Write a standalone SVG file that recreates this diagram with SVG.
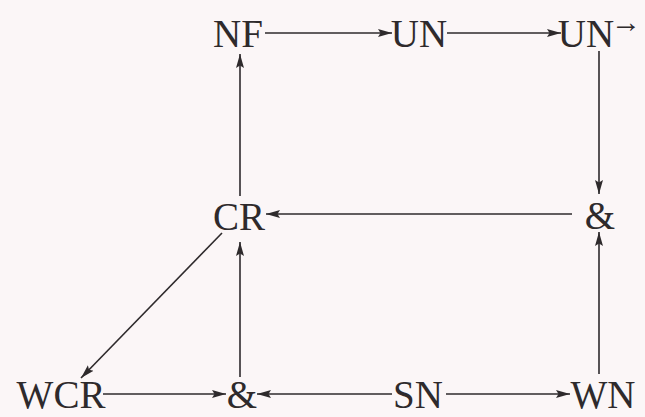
<svg xmlns="http://www.w3.org/2000/svg" width="645" height="417" viewBox="0 0 645 417">
<style>
.n{font-family:"Liberation Serif","DejaVu Serif","Noto Serif",serif;font-size:39px;fill:#2e2a2c;text-anchor:middle}
.e line{stroke:#2e2a2c;stroke-width:1.6;marker-end:url(#ah)}
</style>
<defs>
<marker id="ah" viewBox="0 0 14 9" refX="14" refY="4.5" markerWidth="14" markerHeight="9" markerUnits="userSpaceOnUse" orient="auto">
<path d="M0,0.5 L14,4.5 L0,8.5 L2.5,4.5 z" fill="#2e2a2c"/>
</marker>
</defs>
<rect width="645" height="417" fill="#fbf6f7"/>
<g class="e" id="connectors">
<line x1="265" y1="33" x2="392" y2="33"/>
<line x1="447" y1="33" x2="561" y2="33"/>
<line x1="599" y1="51" x2="599" y2="194"/>
<line x1="572" y1="214" x2="266" y2="214"/>
<line x1="240" y1="196" x2="240" y2="54"/>
<line x1="240" y1="377" x2="240" y2="242"/>
<line x1="222" y1="233" x2="81" y2="378"/>
<line x1="103" y1="394" x2="226" y2="394"/>
<line x1="392" y1="394" x2="257" y2="394"/>
<line x1="446" y1="394" x2="570" y2="394"/>
<line x1="599" y1="374" x2="599" y2="232"/>
</g>
<g id="NF"><text class="n" x="238" y="47">NF</text></g>
<g id="UN"><text class="n" x="419" y="47">UN</text></g>
<g id="UNarrow"><text class="n" x="586" y="47">UN<tspan x="626" y="32" font-size="30">→</tspan></text></g>
<g id="CR"><text class="n" x="239" y="230">CR</text></g>
<g id="ampR"><text class="n" x="600" y="229">&amp;</text></g>
<g id="WCR"><text class="n" x="61" y="408">WCR</text></g>
<g id="ampB"><text class="n" x="242" y="408">&amp;</text></g>
<g id="SN"><text class="n" x="418" y="408">SN</text></g>
<g id="WN"><text class="n" x="603" y="408">WN</text></g>
</svg>
